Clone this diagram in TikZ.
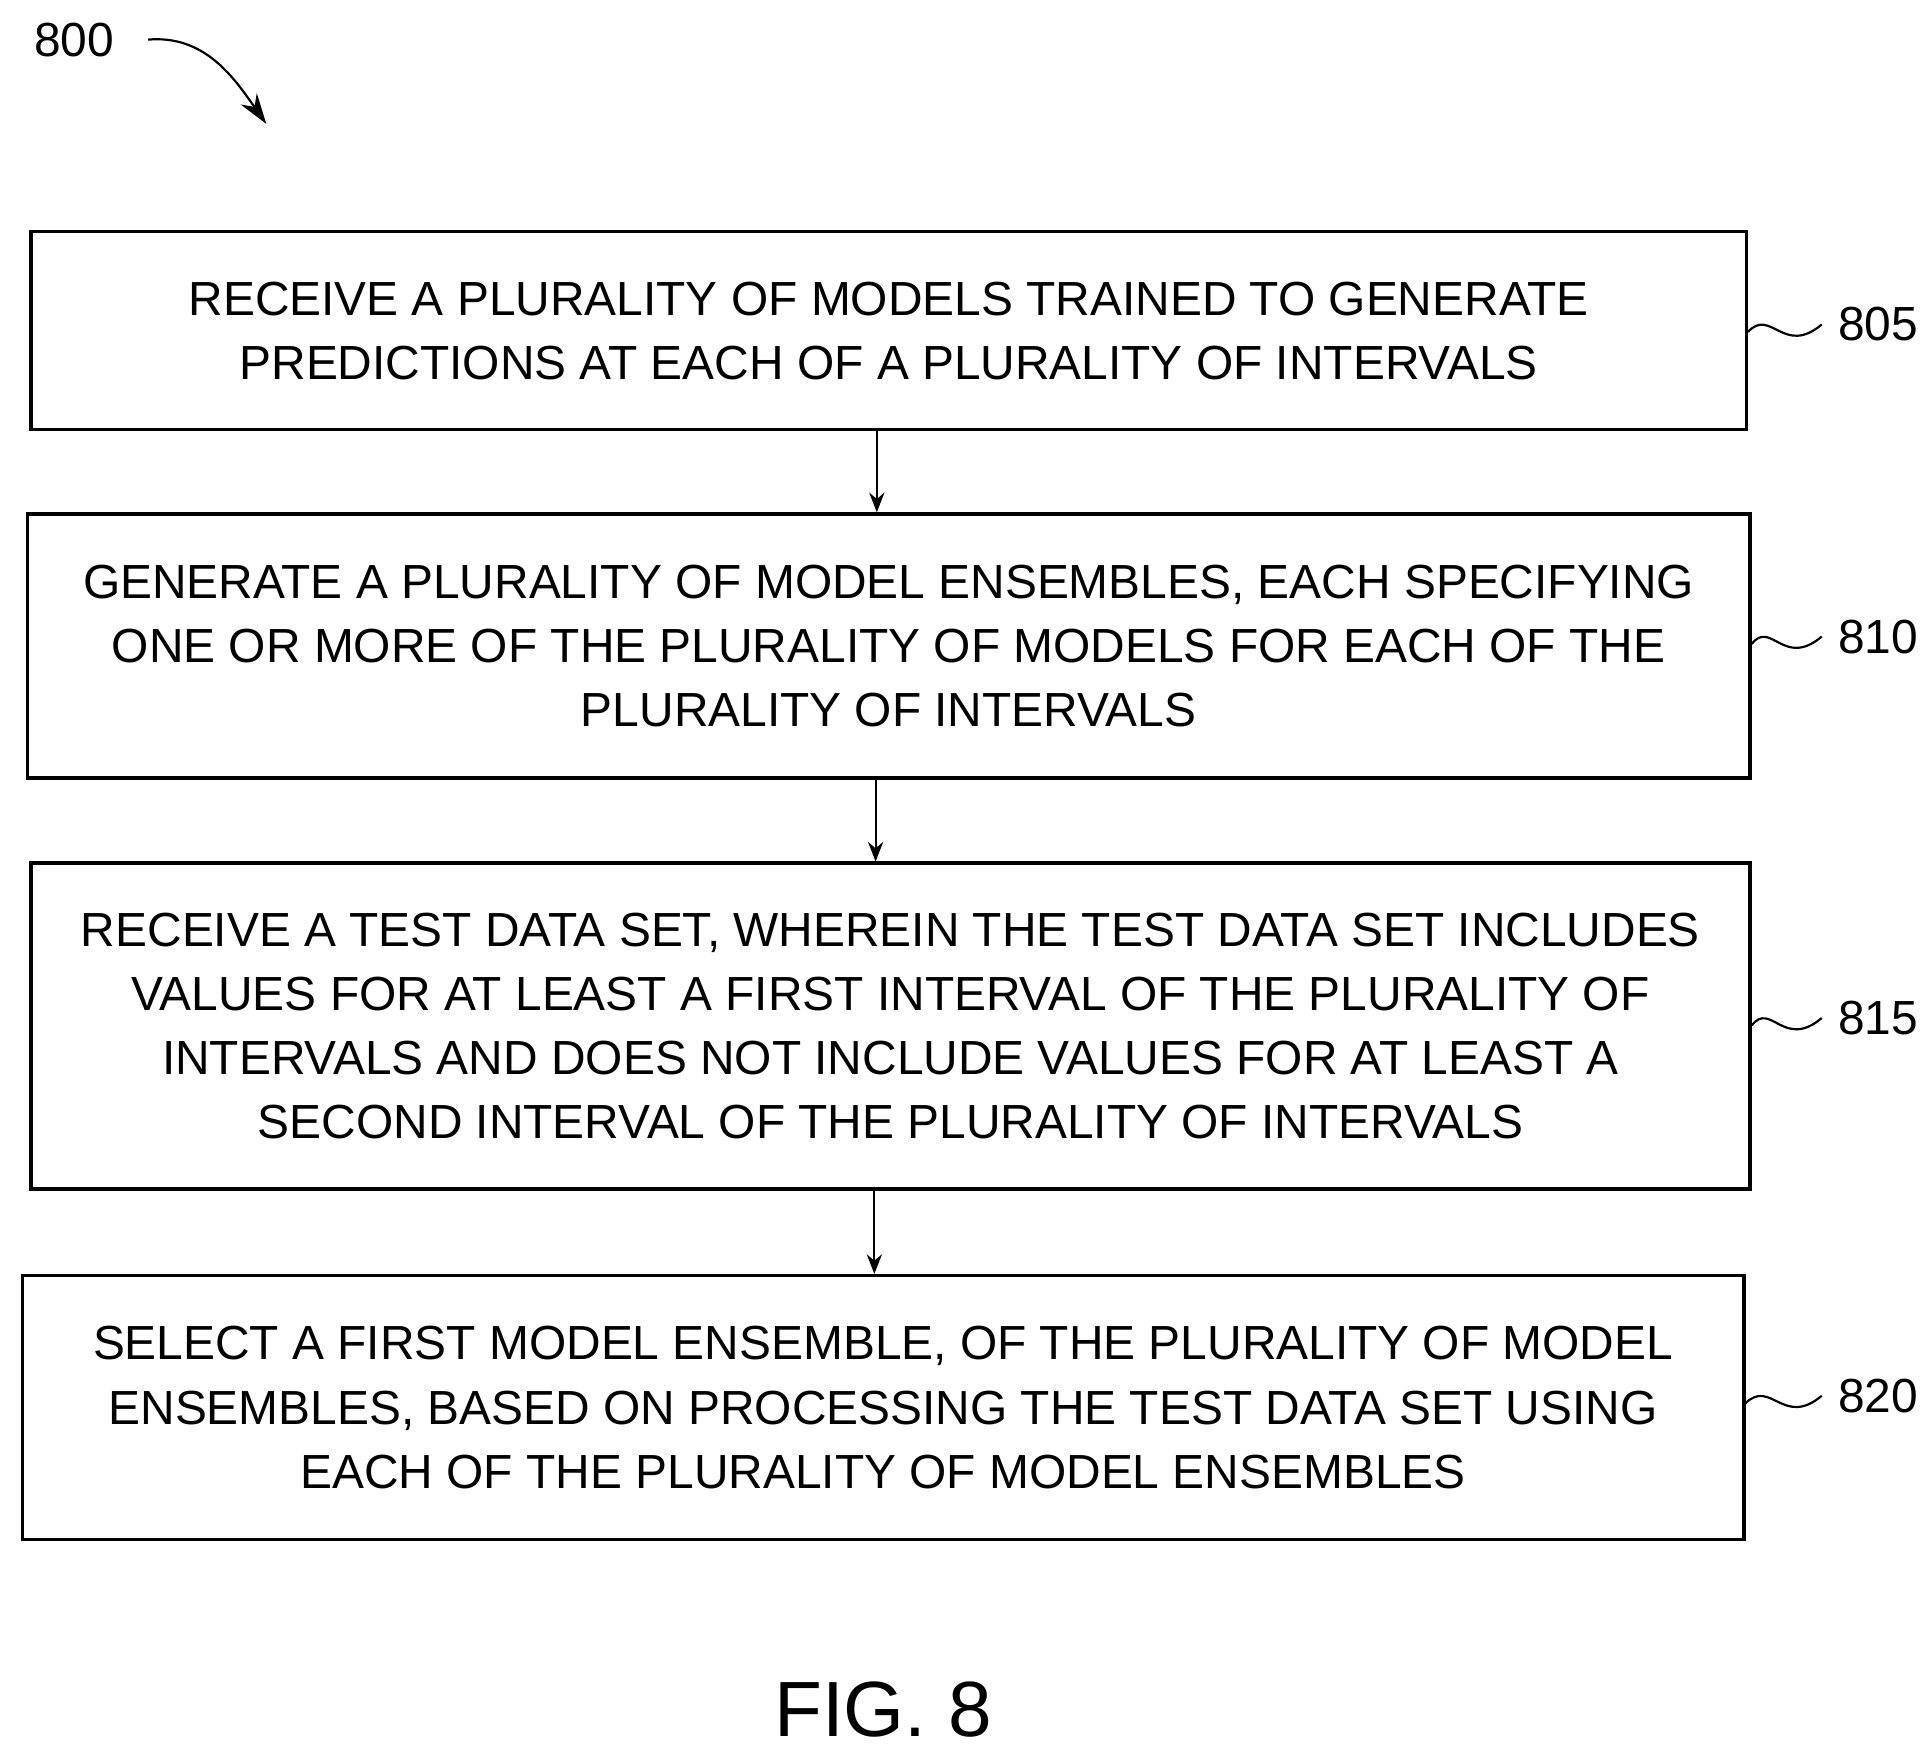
\documentclass[tikz,border=0pt]{standalone}
\usepackage{fontspec}
\setmainfont{Liberation Sans}
\usetikzlibrary{arrows.meta}
\begin{document}
\begin{tikzpicture}
  [x=0.02cm,y=-0.02cm,
   stepbox/.style={draw,line width=1.6pt,align=center,inner sep=0pt,
     font=\fontsize{22}{29.5}\selectfont},
   tag/.style={font=\fontsize{22}{26}\selectfont},
   flow/.style={-{Stealth[length=9pt,width=7pt]},line width=1pt}
  ]
  \useasboundingbox (0,0) rectangle (1560,1420);

  % steps
  \node[stepbox,minimum width=1385*0.02cm,minimum height=160*0.02cm] (s805) at (717.5,267)
    {RECEIVE A PLURALITY OF MODELS TRAINED TO GENERATE\\PREDICTIONS AT EACH OF A PLURALITY OF INTERVALS};
  \node[stepbox,minimum width=1391*0.02cm,minimum height=213*0.02cm] (s810) at (717.5,521.5)
    {GENERATE A PLURALITY OF MODEL ENSEMBLES, EACH SPECIFYING\\ONE OR MORE OF THE PLURALITY OF MODELS FOR EACH OF THE\\PLURALITY OF INTERVALS};
  \node[stepbox,minimum width=1388*0.02cm,minimum height=263*0.02cm] (s815) at (719,828.5)
    {RECEIVE A TEST DATA SET, WHEREIN THE TEST DATA SET INCLUDES\\VALUES FOR AT LEAST A FIRST INTERVAL OF THE PLURALITY OF\\INTERVALS AND DOES NOT INCLUDE VALUES FOR AT LEAST A\\SECOND INTERVAL OF THE PLURALITY OF INTERVALS};
  \node[stepbox,minimum width=1390*0.02cm,minimum height=213*0.02cm] (s820) at (713,1136.5)
    {SELECT A FIRST MODEL ENSEMBLE, OF THE PLURALITY OF MODEL\\ENSEMBLES, BASED ON PROCESSING THE TEST DATA SET USING\\EACH OF THE PLURALITY OF MODEL ENSEMBLES};

  \draw[flow] (s805.south -| 708,0) -- (s810.north -| 708,0);
  \draw[flow] (s810.south -| 707,0) -- (s815.north -| 707,0);
  \draw[flow] (s815.south -| 706,0) -- (s820.north -| 706,0);

  % reference numerals
  \foreach \s/\n/\y in {805/805/262,810/810/514,815/815/822,820/820/1127}{
    \node[tag,anchor=west] (n\n) at (1478,\y) {\n};
    \draw[line width=1pt] (s\s.east |- 0,\y+6) .. controls (1430,\y-14) and (1440,\y+26) .. ([xshift=-4pt]n\n.west);
  }

  \node[tag] (n800) at (60,32) {800};
  \draw[-{Stealth[length=14pt,width=9pt]},line width=1pt] ([xshift=12pt]n800.east) to[out=5,in=125] (215,100);

  \node[font=\fontsize{36}{42}\selectfont] (fig) at (713,1380) {FIG. 8};
\end{tikzpicture}
\end{document}
